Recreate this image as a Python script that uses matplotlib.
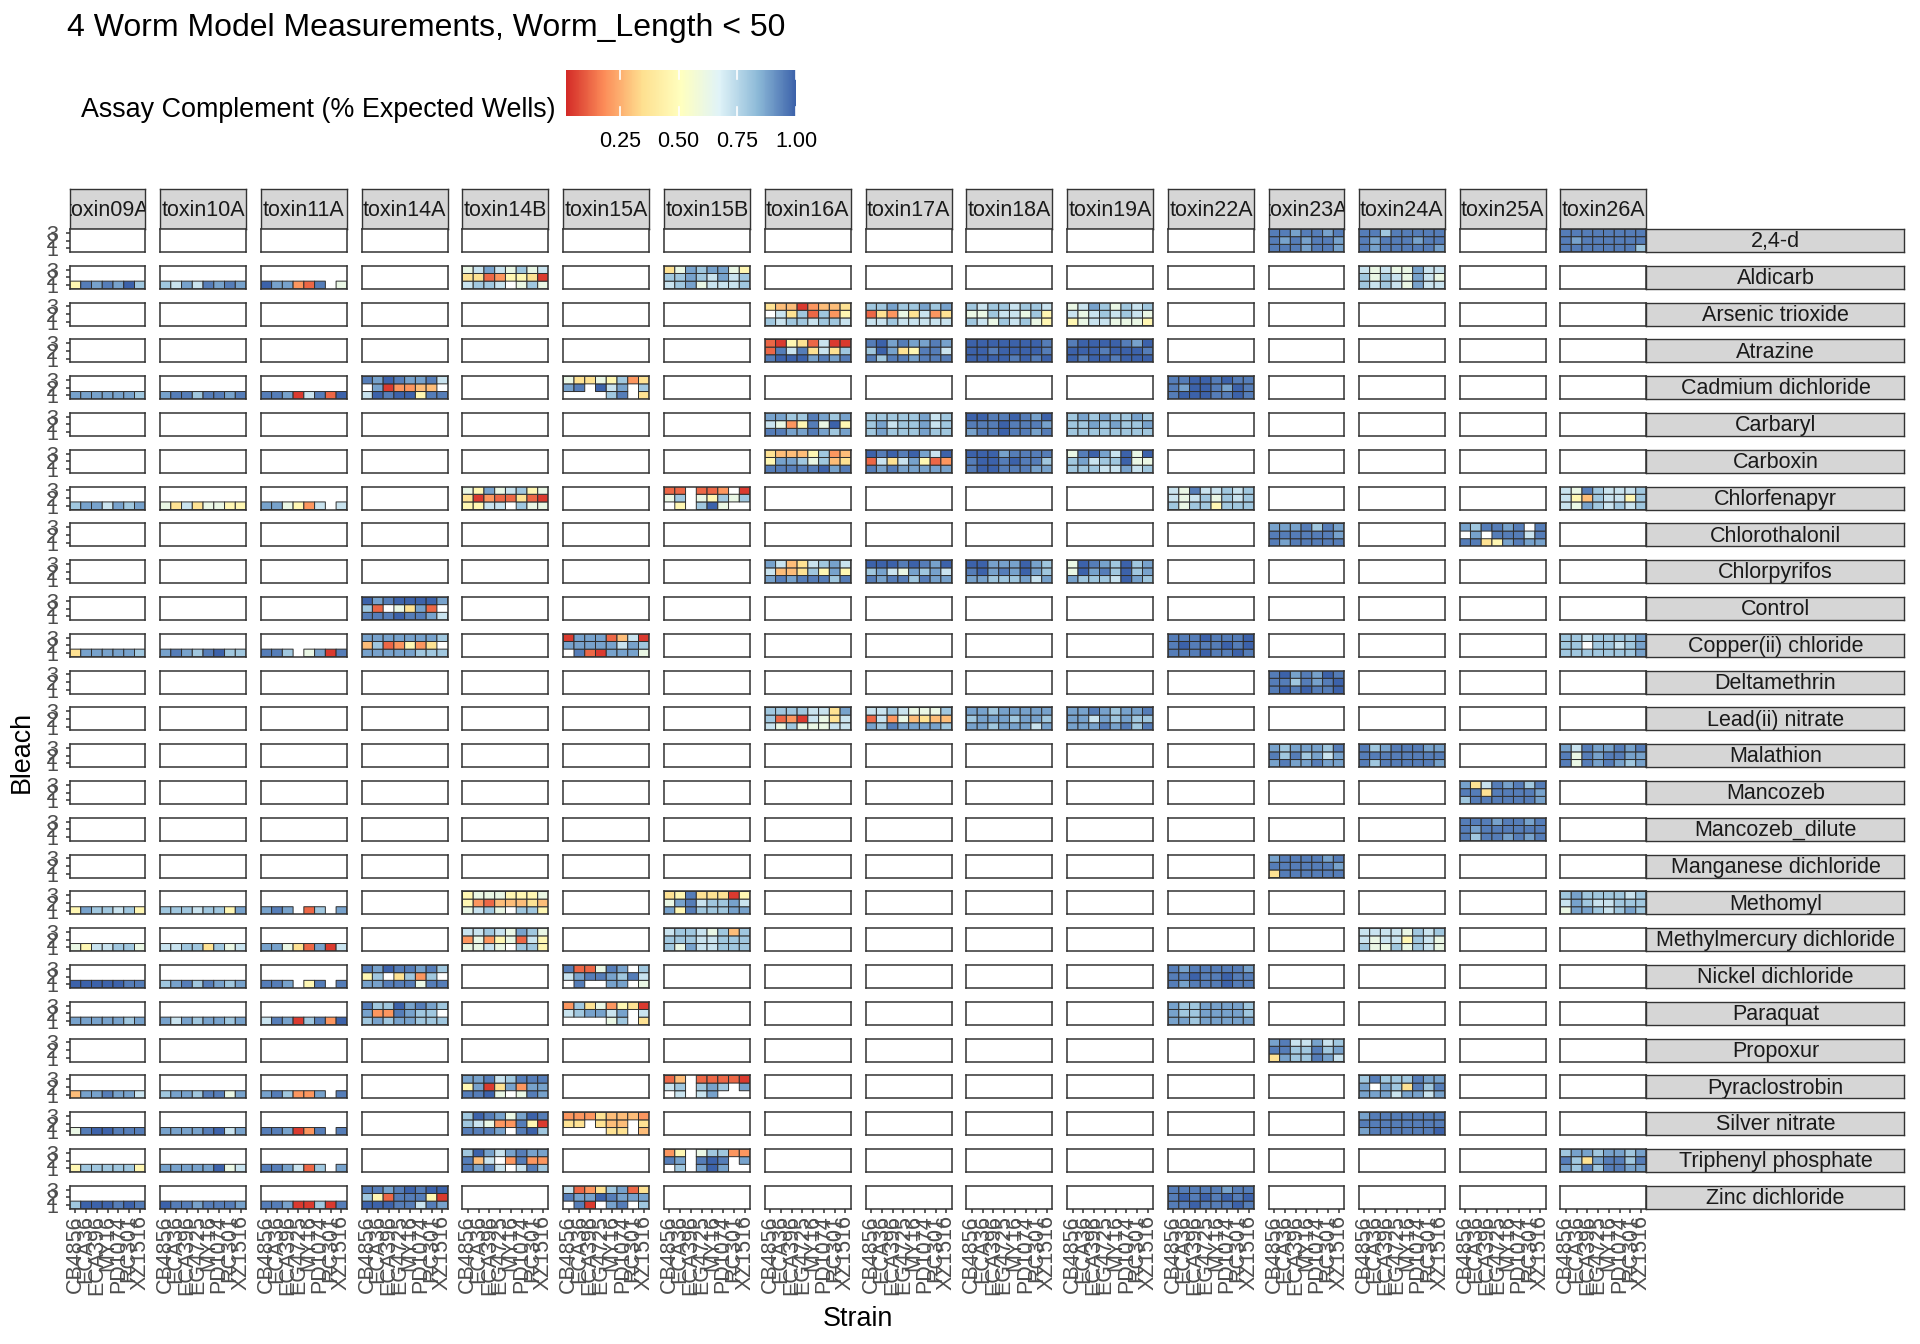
import numpy as np
import matplotlib
matplotlib.use("Agg")
import matplotlib.pyplot as plt
from matplotlib.colors import LinearSegmentedColormap, Normalize
from matplotlib.cm import ScalarMappable

plt.rcParams['font.family'] = ['Liberation Sans', 'DejaVu Sans']

# ---- data -------------------------------------------------------------
strains = ['CB4856', 'ECA36', 'ECA396', 'EG4725', 'MY16', 'PD1074', 'RC301', 'XZ1516']
strains7 = ['CB4856', 'ECA36', 'ECA396', 'MY16', 'PD1074', 'RC301', 'XZ1516']
bleach_labels = ['1', '2', '3']

plates = ['toxin09A', 'toxin10A', 'toxin11A', 'toxin14A', 'toxin14B', 'toxin15A',
          'toxin15B', 'toxin16A', 'toxin17A', 'toxin18A', 'toxin19A', 'toxin22A',
          'toxin23A', 'toxin24A', 'toxin25A', 'toxin26A']

toxins = ['2,4-d', 'Aldicarb', 'Arsenic trioxide', 'Atrazine', 'Cadmium dichloride',
          'Carbaryl', 'Carboxin', 'Chlorfenapyr', 'Chlorothalonil', 'Chlorpyrifos',
          'Control', 'Copper(ii) chloride', 'Deltamethrin', 'Lead(ii) nitrate',
          'Malathion', 'Mancozeb', 'Mancozeb_dilute', 'Manganese dichloride',
          'Methomyl', 'Methylmercury dichloride', 'Nickel dichloride', 'Paraquat',
          'Propoxur', 'Pyraclostrobin', 'Silver nitrate', 'Triphenyl phosphate',
          'Zinc dichloride']

# fraction of expected wells, coded per cell ('.' = no tile)
level = {'0': 0.05, '1': 0.12, '2': 0.2, '3': 0.28, '4': 0.36, '5': 0.47,
         '6': 0.62, '7': 0.72, '8': 0.8, '9': 0.88, 'A': 0.95, 'B': 1.0}

# one string = bleach 1 only; three strings = bleach 3, 2, 1 (top to bottom)
toxin09A = {
    'Aldicarb': '5A9A9B8', 'Cadmium dichloride': '9999998', 'Chlorfenapyr': '8997989',
    'Copper(ii) chloride': '4999998', 'Methomyl': '5988785',
    'Methylmercury dichloride': '6577886', 'Nickel dichloride': 'BBBBBAA',
    'Paraquat': '9999989', 'Pyraclostrobin': '399A997', 'Silver nitrate': '6ABBAAA',
    'Triphenyl phosphate': '5888885', 'Zinc dichloride': '8BBBABA',
}
toxin10A = {
    'Aldicarb': '8797A9A9', 'Cadmium dichloride': '9AA8AA9A', 'Chlorfenapyr': '64746655',
    'Copper(ii) chloride': '9A98AB88', 'Methomyl': '88878859',
    'Methylmercury dichloride': '77884867', 'Nickel dichloride': '89A8A989',
    'Paraquat': '97989989', 'Pyraclostrobin': '8998AA69', 'Silver nitrate': '9999AB79',
    'Triphenyl phosphate': '99999B67', 'Zinc dichloride': 'BAA9AAA9',
}
toxin11A = {
    'Aldicarb': 'B9921A.6', 'Cadmium dichloride': 'AA907A1B', 'Chlorfenapyr': '996527.7',
    'Copper(ii) chloride': 'AA8.690A', 'Methomyl': '9A9.18.9',
    'Methylmercury dichloride': '99641907', 'Nickel dichloride': 'AA9.5A.A',
    'Paraquat': '7A908A2B', 'Pyraclostrobin': '9A8229.A', 'Silver nitrate': 'AA902A.A',
    'Triphenyl phosphate': 'AA9718.9', 'Zinc dichloride': 'AA90080A',
}
toxin14A = {
    'Cadmium dichloride': ['A9BA99A7', '.902233.', '7BABB5AA'],
    'Control': ['B9ABBBB9', '81.6491.', 'AAABAA97'],
    'Copper(ii) chloride': ['99999998', '3812524.', '99999888'],
    'Nickel dichloride': ['A9BAA9A8', '58.4828.', '99AAA6AA'],
    'Paraquat': ['A88B9A98', '922A988.', '89899888'],
    'Zinc dichloride': ['AA9ABABB', '851AAA50', 'BBBAA7A9'],
}
toxin14B = {
    'Aldicarb': ['67976867', '44125540', '7887.686'],
    'Chlorfenapyr': ['65967856', '40211410', '5577.866'],
    'Methomyl': ['56665556', '52133343', '6786.885'],
    'Methylmercury dichloride': ['77876986', '26256175', '6676.885'],
    'Pyraclostrobin': ['99A78AAA', '59049299', 'AAB6.6A9'],
    'Silver nitrate': ['8BA969BA', '87622A50', 'AAA9.AB8'],
    'Triphenyl phosphate': ['8B979A99', 'A37.2A22', 'A9A7.7A8'],
}
toxin15A = {
    'Cadmium dichloride': ['64465824', '9A.B79.8', '....8A.4'],
    'Copper(ii) chloride': ['09991370', '99999798', '.A109996'],
    'Nickel dichloride': ['A116A9.8', '79AA98A7', '.A..99.6'],
    'Paraquat': ['28462540', '789979.7', '....68.4'],
    'Silver nitrate': ['22243332', '44.433.4', '....44.3'],
    'Zinc dichloride': ['71248914', 'A99BA999', '.A0.9A.8'],
}
toxin15B = {
    'Aldicarb': ['46989965', '88987978', '78967778'],
    'Chlorfenapyr': ['11.112.0', '68.65868', '.5.8B6..'],
    'Methomyl': ['45A44405', '69A78897', '95A88899'],
    'Methylmercury dichloride': ['78876838', '88877888', '86977888'],
    'Pyraclostrobin': ['13.11110', '78.898.9', '.7.79...'],
    'Triphenyl phosphate': ['25.68822', 'A9.ABA.9', '.8.9B9..'],
}
toxin16A = {
    'Arsenic trioxide': ['43302334', '.7481825', '87887887'],
    'Atrazine': ['10541700', '1A7A4748', 'ABBB9A9A'],
    'Carbaryl': ['9988A989', '7625A6B5', 'AA99A989'],
    'Carboxin': ['43335823', '59986834', 'AAAAAB9A'],
    'Chlorpyrifos': ['97347897', '73348595', '9A9AAA8A'],
    'Lead(ii) nitrate': ['88887749', '81207647', '76866677'],
}
toxin17A = {
    'Arsenic trioxide': ['88988989', '14264724', '77877777'],
    'Atrazine': ['AB9A99A9', '8B945AA7', 'A8AA9AAA'],
    'Carbaryl': ['88888978', '89788978', '89888988'],
    'Carboxin': ['BABAB97B', '17479512', 'A9A99999'],
    'Chlorpyrifos': ['BBBABA9B', '89769897', 'A9AA8A99'],
    'Lead(ii) nitrate': ['77876668', '17263433', '98A99998'],
}
toxin18A = {
    'Arsenic trioxide': ['87887887', '66877685', '87687865'],
    'Atrazine': ['BBBBBBBA', 'BBABBBBA', 'BBBBABAB'],
    'Carbaryl': ['BBAABA9B', 'AAABAAA9', '9AABAA9A'],
    'Carboxin': ['BBB9AAAA', 'ABBABAA8', 'ABBAAA99'],
    'Chlorpyrifos': ['BB999B98', 'AB9A9B98', '99888979'],
    'Lead(ii) nitrate': ['99899999', '89998998', '99899979'],
}
toxin19A = {
    'Arsenic trioxide': ['67986878', '76787876', '56776665'],
    'Atrazine': ['ABBBBA9B', 'BBBABBBA', 'BABBABBB'],
    'Carbaryl': ['89898898', '88989889', '88888888'],
    'Carboxin': ['6AB97B6B', '89788B66', '88877978'],
    'Chlorpyrifos': ['6BA98B89', '6B9A8B89', '98887B98'],
    'Lead(ii) nitrate': ['99A9899A', '99798988', '999A9A8A'],
}
toxin22A = {
    'Cadmium dichloride': ['AABBABAA', 'A9BBA9BA', 'ABBBAABA'],
    'Chlorfenapyr': ['76A77878', '76786878', '86885888'],
    'Copper(ii) chloride': ['AAABAAAB', 'ABAAABAB', 'AAABAABA'],
    'Nickel dichloride': ['A9AAAAA9', 'AABAABAA', 'A9AAABAA'],
    'Paraquat': ['98899998', '98899998', '99899999'],
    'Zinc dichloride': ['AAAAA9AA', 'ABABABAB', 'AABAAABA'],
}
toxin23A = {
    '2,4-d': ['AA9AA9A', 'A9A9AA9', 'AAA9AA9'],
    'Chlorothalonil': ['999A8A9', 'AAAAAA9', 'A9AAAAA'],
    'Deltamethrin': ['AB9A9BA', 'AA8A9AB', 'ABABAAB'],
    'Malathion': ['989998A', 'A8A8979', '9A99A99'],
    'Manganese dichloride': ['9AAAA9A', 'AAAAAA9', '4AAAAAA'],
    'Propoxur': ['9A77978', 'AA88A89', '4988A97'],
}
toxin24A = {
    '2,4-d': ['AA8AAAAA', 'A9AAA9AA', 'A9AAAAA9'],
    'Aldicarb': ['76766977', '86876976', '87876977'],
    'Malathion': ['A89AAA99', 'AAAAAAAA', 'A8AAAAA9'],
    'Methylmercury dichloride': ['77776878', '76775876', '86686876'],
    'Pyraclostrobin': ['8A888A99', '9.984A8A', '99979979'],
    'Silver nitrate': ['9AAAAAAA', 'AAAAAAAA', '9AAAAAAB'],
}
toxin25A = {
    'Chlorothalonil': ['98AA9A.A', '.9.AAA7A', 'AA459A99'],
    'Mancozeb': ['947A9A8A', 'AA4AAAA9', '8AAAAAA9'],
    'Mancozeb_dilute': ['AAA9AA9A', 'A9AAAAAA', 'A8AA9A9A'],
}
toxin26A = {
    '2,4-d': ['AAAAAAAA', 'A9AAAAAA', 'AAAAAAA8'],
    'Chlorfenapyr': ['76A87778', '75387758', '76987878'],
    'Copper(ii) chloride': ['88788889', '88.88789', '88888889'],
    'Malathion': ['97A99A9A', 'A6A9AA99', 'A6A9A989'],
    'Methomyl': ['89888878', '79877888', '69987898'],
    'Triphenyl phosphate': ['89989989', 'A849AA8A', '98A8AA99'],
}

plate_data = {
    'toxin09A': toxin09A, 'toxin10A': toxin10A, 'toxin11A': toxin11A,
    'toxin14A': toxin14A, 'toxin14B': toxin14B, 'toxin15A': toxin15A,
    'toxin15B': toxin15B, 'toxin16A': toxin16A, 'toxin17A': toxin17A,
    'toxin18A': toxin18A, 'toxin19A': toxin19A, 'toxin22A': toxin22A,
    'toxin23A': toxin23A, 'toxin24A': toxin24A, 'toxin25A': toxin25A,
    'toxin26A': toxin26A,
}
plate_strains = {p: (strains7 if p in ('toxin09A', 'toxin23A') else strains) for p in plates}

# ---- style -----------------------------------------------------------
cmap = LinearSegmentedColormap.from_list(
    'rdylbu', ['#D32A27', '#FC8D59', '#FEE090', '#FFFFBF', '#E0F3F8', '#8DBAD8', '#3C62AA'])
norm = Normalize(vmin=0.02, vmax=1.0)

W, H = 1920, 1344
DPI = 100
fig = plt.figure(figsize=(W / DPI, H / DPI), dpi=DPI)
fig.patch.set_facecolor('white')


def px(x, y, w, h):
    return [x / W, 1 - (y + h) / H, w / W, h / H]


cell_w = 10.75
gap = 14.8
x_start = 70
row_top = 229
pitch = 36.8
panel_h = 23
strip_top = 189
strip_h = 40
rstrip_w = 258
dark = '#333333'
txt_grey = '#4D4D4D'
base = 19.4
small = 15.5

lefts = []
x = x_start
for p in plates:
    lefts.append(x)
    x += len(plate_strains[p]) * cell_w + gap
right_end = lefts[-1] + len(plate_strains[plates[-1]]) * cell_w


def strip_axes(rect, label):
    sax = fig.add_axes(rect)
    sax.set_facecolor('#D6D6D6')
    sax.set_xticks([])
    sax.set_yticks([])
    for s in sax.spines.values():
        s.set_color(dark)
        s.set_linewidth(1.0)
    sax.text(0.5, 0.45, label, transform=sax.transAxes, ha='center', va='center',
             fontsize=small, color='#1A1A1A', clip_on=True)
    return sax


# column strips
for c, p in enumerate(plates):
    n = len(plate_strains[p])
    strip_axes(px(lefts[c], strip_top, n * cell_w, strip_h), p)

for r, tox in enumerate(toxins):
    ytop = row_top + r * pitch
    for c, p in enumerate(plates):
        names = plate_strains[p]
        n = len(names)
        ax = fig.add_axes(px(lefts[c], ytop, n * cell_w, panel_h))
        ax.set_facecolor('white')
        grid = np.full((3, n), np.nan)
        rows = plate_data[p].get(tox)
        if rows is not None:
            if isinstance(rows, str):
                rows = [None, None, rows]
            for k, s in enumerate(rows):
                if s is None:
                    continue
                for j, ch in enumerate(s):
                    if ch != '.':
                        grid[2 - k, j] = level[ch]
            ax.pcolor(np.arange(n + 1) - 0.5, np.arange(4) - 0.5,
                      np.ma.masked_invalid(grid), cmap=cmap, norm=norm,
                      edgecolors='#2E2E2E', linewidth=0.7)
        ax.set_xlim(-0.5, n - 0.5)
        ax.set_ylim(-0.5, 2.5)
        for s in ax.spines.values():
            s.set_color(dark)
            s.set_linewidth(1.1)
        ax.tick_params(length=3.2, width=1.1, color=dark, labelsize=small,
                       labelcolor=txt_grey, pad=1.5)
        if r == len(toxins) - 1:
            ax.set_xticks(range(n))
            ax.set_xticklabels(names, rotation=90)
        else:
            ax.set_xticks([])
        if c == 0:
            ax.set_yticks(range(3))
            ax.set_yticklabels(bleach_labels)
            ax.tick_params(axis='y', pad=5.5)
        else:
            ax.set_yticks([])
    # row strip on the right
    strip_axes(px(right_end, ytop, rstrip_w, panel_h), tox)

# titles
fig.text(67 / W, 1 - 28 / H, '4 Worm Model Measurements, Worm_Length < 50',
         ha='left', va='center', fontsize=23, color='black')
fig.text(22 / W, 1 - 752 / H, 'Bleach', rotation=90, ha='center', va='center',
         fontsize=base, color='black')
fig.text((x_start + right_end) / 2 / W, 1 - 1319 / H, 'Strain', ha='center',
         va='center', fontsize=base, color='black')

# legend
fig.text(81 / W, 1 - 110 / H, 'Assay Complement (% Expected Wells)', ha='left',
         va='center', fontsize=base, color='black')
cax = fig.add_axes(px(566, 70, 230, 46))
sm = ScalarMappable(norm=norm, cmap=cmap)
cbar = fig.colorbar(sm, cax=cax, orientation='horizontal')
cbar.outline.set_visible(False)
cticks = [0.25, 0.5, 0.75, 1.0]
cbar.set_ticks(cticks)
cbar.set_ticklabels(['0.25', '0.50', '0.75', '1.00'])
cax.tick_params(length=0, labelsize=small, labelcolor='black', pad=11)
for v in cticks:
    cax.axvline(v, ymin=0, ymax=0.2, color='white', linewidth=1.2)
    cax.axvline(v, ymin=0.8, ymax=1, color='white', linewidth=1.2)

fig.savefig('out.png', dpi=DPI, facecolor='white')
